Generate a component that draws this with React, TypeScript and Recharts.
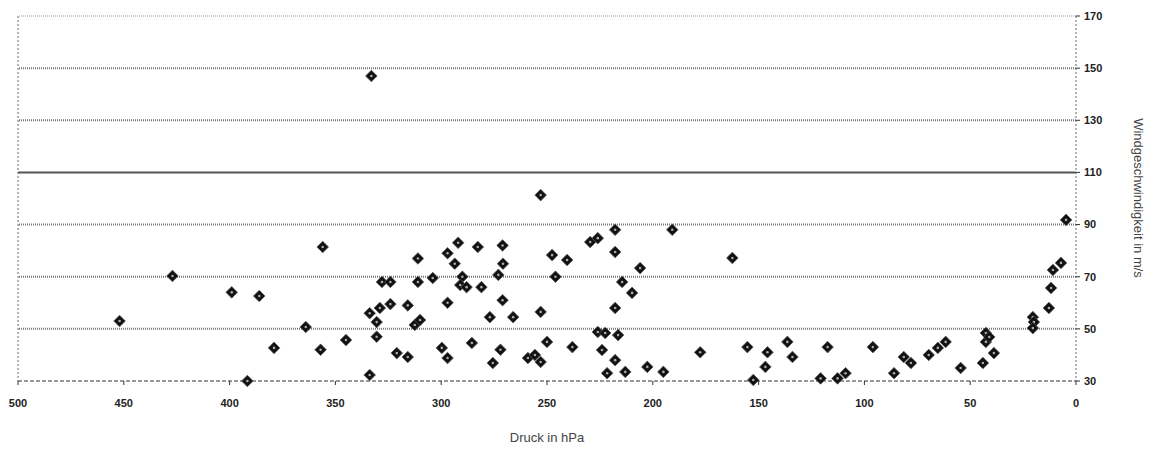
import React from 'react';
import { ScatterChart, Scatter, XAxis, YAxis, ReferenceLine } from 'recharts';

// Druck (hPa) und Windgeschwindigkeit (m/s)
const pressureHpa = [
  452, 427, 399, 386, 391.6, 379, 364, 357, 356, 345,
  333, 333.8, 333.8, 330.5, 330.5, 329, 324, 328, 324, 321,
  315.8, 315.8, 312.5, 310, 311, 311, 304, 299.7, 297, 297,
  297, 293.6, 292, 290, 291, 288, 282.7, 281, 285.5, 277,
  275.6, 273, 272, 271, 270.8, 271, 266, 259, 255.7, 253,
  253, 253, 250, 247.6, 246, 240.5, 238, 229.6, 226, 226,
  224, 222.5, 221.6, 217.8, 217.8, 217.8, 217.8, 216.4, 214.5, 213,
  209.8, 206, 202.6, 195, 190.8, 177.6, 162.4, 155.3, 152.5, 146.8,
  145.8, 136.4, 134, 120.7, 117.4, 112.7, 108.9, 96, 86, 81.4,
  78, 69.6, 65.3, 61.6, 54.5, 44, 42.6, 42.6, 41, 38.8,
  20.4, 19.9, 20.4, 12.8, 11.8, 10.9, 7.1, 4.7,
];

const windSpeed = [
  53, 70.3, 64, 62.6, 30, 42.7, 50.7, 42, 81.4, 45.7,
  147, 32.3, 56, 52.6, 47, 58, 59.5, 68, 68, 40.7,
  39.2, 59, 51.5, 53.4, 77, 68, 69.5, 42.7, 38.8, 60,
  79, 75, 83, 70, 66.8, 66, 81.4, 66, 44.6, 54.5,
  36.9, 70.7, 42, 82, 75, 61, 54.5, 38.8, 40, 37.3,
  56.5, 101.3, 45, 78.3, 70, 76.4, 43, 83.3, 84.8, 48.8,
  41.9, 48.4, 33, 88, 79.5, 58, 38, 47.6, 68, 33.5,
  63.8, 73.3, 35.4, 33.5, 88, 41, 77.2, 43, 30.4, 35.4,
  41, 45, 39.2, 31, 43, 31, 33, 43, 33, 39.2,
  36.9, 40, 42.7, 45, 35, 36.9, 48.4, 45, 46.9, 40.7,
  54.5, 52.6, 50.3, 58, 65.7, 72.6, 75.3, 91.8,
];

const xTicks = [500, 450, 400, 350, 300, 250, 200, 150, 100, 50, 0];
const yTicks = [30, 50, 70, 90, 110, 130, 150, 170];
const yMinorTicks = [
  30, 35, 40, 45, 50, 55, 60, 65, 70, 75, 80, 85, 90, 95, 100, 105, 110,
  115, 120, 125, 130, 135, 140, 145, 150, 155, 160, 165, 170,
];

const data = pressureHpa.map((p, i) => ({ p, v: windSpeed[i] }));

const Diamond = (props: any) => {
  const { cx, cy } = props;
  if (cx == null || cy == null) return null;
  const r = 5.8;
  return (
    <g>
      <polygon
        points={`${cx},${cy - r} ${cx + r},${cy} ${cx},${cy + r} ${cx - r},${cy}`}
        fill="#111"
        stroke="#555"
        strokeWidth={0.8}
      />
      <circle cx={cx} cy={cy} r={1.3} fill="#aaa" />
    </g>
  );
};

const tickStyle = { fontSize: 11, fill: '#222', stroke: 'none', fontWeight: 600 };

export default function App() {
  return (
    <div style={{ position: 'absolute', left: 0, top: 0, background: '#fff' }}>
      <ScatterChart
        width={1155}
        height={456}
        margin={{ top: 16, right: 39, bottom: 45, left: 18 }}
        style={{ fontFamily: '"Liberation Sans", Arial, sans-serif' }}
      >
        <XAxis
          type="number"
          dataKey="p"
          domain={[0, 500]}
          reversed
          ticks={xTicks}
          interval={0}
          height={30}
          tickSize={4}
          tickMargin={14}
          tick={tickStyle}
          axisLine={{ stroke: '#333', strokeDasharray: '4 2' }}
          tickLine={{ stroke: '#333' }}
          label={() => (
            <text x={547} y={442} textAnchor="middle" fontSize={13} fill="#444">
              Druck in hPa
            </text>
          )}
        />
        <YAxis
          yAxisId="minorL"
          orientation="left"
          type="number"
          domain={[30, 170]}
          ticks={yMinorTicks}
          interval={0}
          width={1}
          mirror
          tick={false}
          tickSize={3}
          axisLine={{ stroke: '#666', strokeDasharray: '2 2' }}
          tickLine={{ stroke: '#666' }}
        />
        <YAxis
          yAxisId="minorR"
          orientation="right"
          type="number"
          domain={[30, 170]}
          ticks={yMinorTicks}
          interval={0}
          width={1}
          mirror
          tick={false}
          tickSize={3}
          axisLine={{ stroke: '#666', strokeDasharray: '2 2' }}
          tickLine={{ stroke: '#666' }}
        />
        <YAxis
          dataKey="v"
          orientation="right"
          type="number"
          domain={[30, 170]}
          ticks={yTicks}
          interval={0}
          width={40}
          tickSize={4}
          tickMargin={4}
          tick={tickStyle}
          axisLine={false}
          tickLine={{ stroke: '#333' }}
          label={() => (
            <text
              x={1137}
              y={198}
              textAnchor="middle"
              dominantBaseline="middle"
              fontSize={13}
              fill="#444"
              transform="rotate(90, 1137, 198)"
            >
              Windgeschwindigkeit in m/s
            </text>
          )}
        />
        {yTicks
          .filter((t) => t !== 30)
          .map((t) => (
            <ReferenceLine
              key={t}
              y={t}
              stroke={t === 110 ? '#555' : t === 170 ? '#999' : '#777'}
              strokeWidth={t === 110 ? 2 : t === 170 ? 1 : 2}
              strokeDasharray={t === 110 ? undefined : '1 1'}
            />
          ))}
        <Scatter data={data} shape={<Diamond />} isAnimationActive={false} />
      </ScatterChart>
    </div>
  );
}
